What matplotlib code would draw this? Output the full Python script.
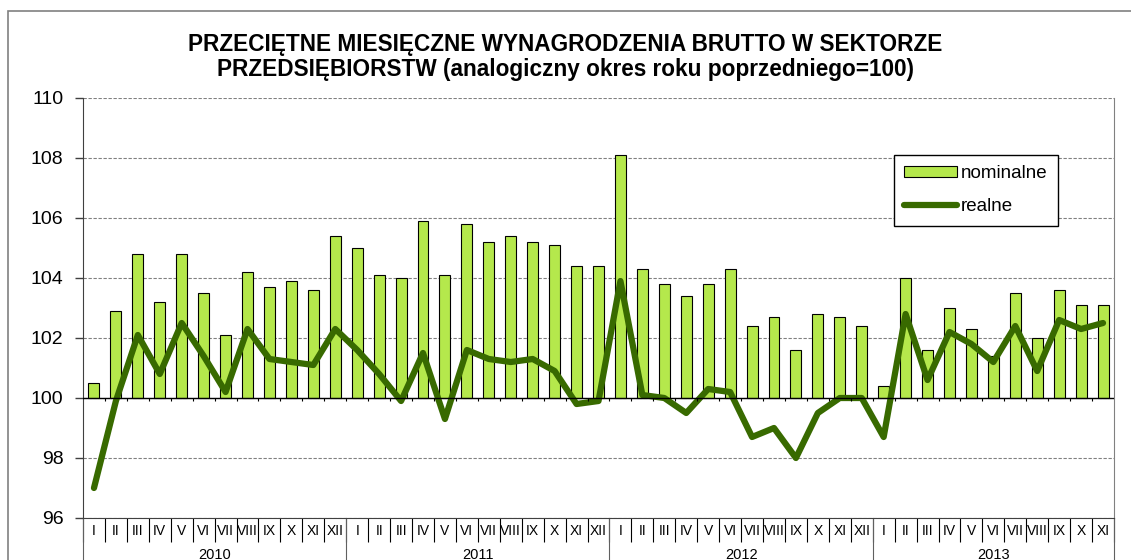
import matplotlib
matplotlib.use('Agg')
import matplotlib.pyplot as plt
from matplotlib.patches import Rectangle, Patch
from matplotlib.lines import Line2D
import numpy as np

plt.rcParams['font.family'] = ['Liberation Sans', 'DejaVu Sans']

# dane
lata = ['2010', '2011', '2012', '2013']
miesiace = ['I', 'II', 'III', 'IV', 'V', 'VI', 'VII', 'VIII', 'IX', 'X', 'XI', 'XII']
etykiety = miesiace * 3 + miesiace[:11]

nominalne = [100.5, 102.9, 104.8, 103.2, 104.8, 103.5, 102.1, 104.2, 103.7, 103.9, 103.6, 105.4,
             105.0, 104.1, 104.0, 105.9, 104.1, 105.8, 105.2, 105.4, 105.2, 105.1, 104.4, 104.4,
             108.1, 104.3, 103.8, 103.4, 103.8, 104.3, 102.4, 102.7, 101.6, 102.8, 102.7, 102.4,
             100.4, 104.0, 101.6, 103.0, 102.3, 101.4, 103.5, 102.0, 103.6, 103.1, 103.1]

realne = [97.0, 99.9, 102.1, 100.8, 102.5, 101.4, 100.2, 102.3, 101.3, 101.2, 101.1, 102.3,
          101.6, 100.8, 99.9, 101.5, 99.3, 101.6, 101.3, 101.2, 101.3, 100.9, 99.8, 99.9,
          103.9, 100.1, 100.0, 99.5, 100.3, 100.2, 98.7, 99.0, 98.0, 99.5, 100.0, 100.0,
          98.7, 102.8, 100.6, 102.2, 101.8, 101.2, 102.4, 100.9, 102.6, 102.3, 102.5]

baza = 100
kolor_slupki = '#B5E84C'
kolor_linia = '#386A00'

n = len(nominalne)
x = np.arange(n)

fig = plt.figure(figsize=(11.31, 5.60), dpi=100)
ax = fig.add_axes([83 / 1131, 42 / 560, 1031 / 1131, 420 / 560])

# ramka wykresu
fig.patches.append(Rectangle((8 / 1131, -0.2), 1.2, 1.2 - 11 / 560, transform=fig.transFigure,
                             fill=False, edgecolor='#808080', linewidth=1.2, zorder=0))

ax.bar(x, np.array(nominalne) - baza, bottom=baza, width=0.5, color=kolor_slupki,
       edgecolor='black', linewidth=0.8, zorder=3)
ax.plot(x, realne, color=kolor_linia, linewidth=4.5, solid_capstyle='round',
        solid_joinstyle='round', zorder=4)

ax.set_xlim(-0.5, n - 0.5)
ax.set_ylim(96, 110)
ax.set_yticks(np.arange(96, 111, 2))
ax.yaxis.grid(True, linestyle=(0, (3, 1.5)), color='#808080', linewidth=0.8, zorder=0)
ax.tick_params(axis='y', labelsize=14, length=6, width=1, color='#404040', pad=8)

ax.spines['top'].set_visible(False)
ax.spines['right'].set_color('#808080')
ax.spines['left'].set_color('#404040')
ax.spines['bottom'].set_color('#404040')

# os kategorii na poziomie 100
ax.axhline(baza, color='black', linewidth=1.0, zorder=5)
ax.vlines(x[:-1] + 0.5, baza - 0.1, baza, color='black', linewidth=0.8, zorder=5)

# etykiety miesiecy
ax.set_xticks(np.arange(-0.5, n, 1.0))
ax.set_xticklabels([])
ax.tick_params(axis='x', length=17, width=0.8, color='black', direction='out')
for i, lab in enumerate(etykiety):
    ax.text(i, -0.03, lab, transform=ax.get_xaxis_transform(), ha='center', va='center',
            fontsize=10)

# lata
granice = [-0.5, 11.5, 23.5, 35.5, n - 0.5]
for g in granice:
    ax.plot([g, g], [0, -0.2], transform=ax.get_xaxis_transform(), color='#606060',
            linewidth=0.8, clip_on=False)
for k, rok in enumerate(lata):
    srodek = (granice[k] + granice[k + 1]) / 2
    ax.text(srodek, -0.088, rok, transform=ax.get_xaxis_transform(), ha='center', va='center',
            fontsize=10.5)

fig.text(0.5, 1 - 57 / 560,
         'PRZECIĘTNE MIESIĘCZNE WYNAGRODZENIA BRUTTO W SEKTORZE\n'
         'PRZEDSIĘBIORSTW (analogiczny okres roku poprzedniego=100)',
         ha='center', va='center', fontsize=16.3, fontweight='bold', linespacing=1.12)

uchwyty = [Patch(facecolor=kolor_slupki, edgecolor='black', linewidth=0.8),
           Line2D([0], [0], color=kolor_linia, linewidth=4.5, solid_capstyle='round')]
leg = ax.legend(uchwyty, ['nominalne', 'realne'], loc='upper left',
                bbox_to_anchor=(894 / 1131, 1 - 155 / 560), bbox_transform=fig.transFigure,
                borderaxespad=0, fancybox=False, framealpha=1, edgecolor='black',
                fontsize=13.5, handlelength=2.8, handleheight=0.55, handletextpad=0.2,
                labelspacing=0.85, borderpad=0.55)
leg.get_frame().set_linewidth(1.0)
leg.set_zorder(6)

fig.savefig('out.png', dpi=100)
